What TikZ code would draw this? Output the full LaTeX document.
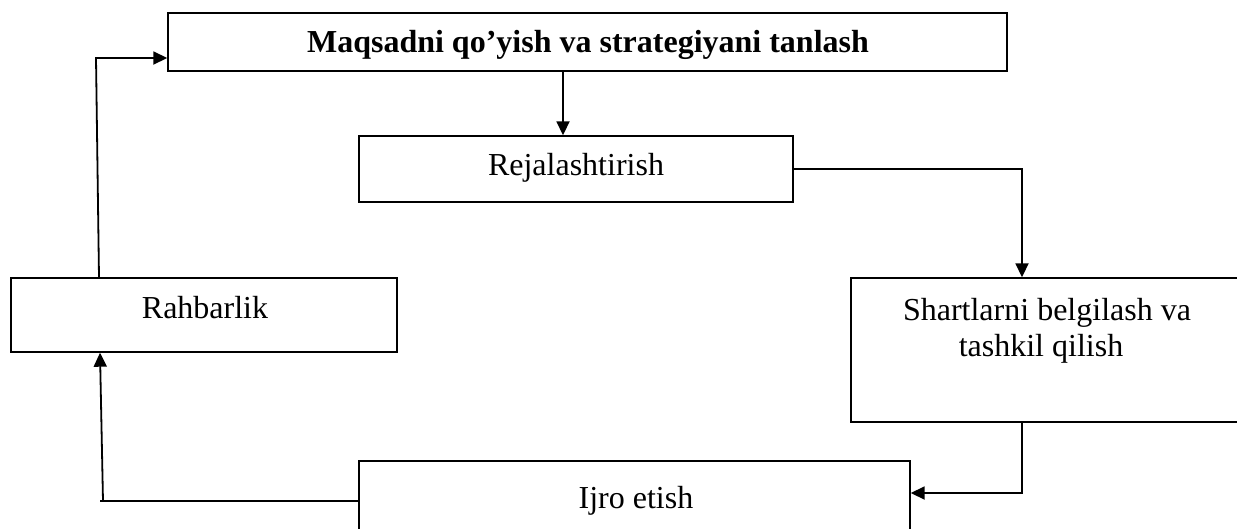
\documentclass[tikz,border=0pt]{standalone}
\usepackage{fontspec}
\setmainfont{Liberation Serif}
\usetikzlibrary{arrows.meta}
\begin{document}
\begin{tikzpicture}[x=1pt,y=-1pt,
  box/.style={draw=black,line width=1.4pt,rectangle,inner sep=0pt,fill=none},
  txt/.style={anchor=base,inner sep=0pt,font=\fontsize{32}{36}\selectfont},
  conn/.style={line width=1.8pt,-{Triangle[length=14pt,width=13pt]}},
  plain/.style={line width=1.8pt}]
\useasboundingbox (0,0) rectangle (1237,528);
\clip (0,0) rectangle (1237,528);
% boxes
\node[box,minimum width=839pt,minimum height=58pt] (goal) at (587.5,42) {};
\node[box,minimum width=434pt,minimum height=66pt] (plan) at (576,169) {};
\node[box,minimum width=386pt,minimum height=74pt] (lead) at (204,315) {};
\node[box,minimum width=392pt,minimum height=144pt] (cond) at (1047,350) {};
\node[box,minimum width=551pt,minimum height=90pt] (exec) at (634.5,506) {};
% texts
\node[txt,font=\fontsize{32}{36}\selectfont\bfseries] (goalt) at (588,52) {Maqsadni qo’yish va strategiyani tanlash};
\node[txt] (plant) at (576,175) {Rejalashtirish};
\node[txt] (leadt) at (205,318) {Rahbarlik};
\node[txt] (condt1) at (1047,320) {Shartlarni belgilash va};
\node[txt] (condt2) at (1041,356) {tashkil qilish};
\node[txt] (exect) at (636,508) {Ijro etish};
% connector helper coordinates
\coordinate (c1) at (1022,169);
\coordinate (c2) at (1022,493);
\coordinate (c3) at (100,501);
\coordinate (c4) at (96,58);
% connectors
\draw[conn] (goal.south -| 563,0) -- (plan.north -| 563,0);
\draw[conn] (plan.east |- c1) -- (c1) -- (cond.north -| c1);
\draw[conn] (cond.south -| c2) -- (c2) -- (exec.east |- c2);
\draw[plain] (exec.west |- c3) -- (c3);
\draw[conn] (103,501) -- (lead.south -| 100,0);
\draw[conn] (lead.north -| 99,0) -- (c4) -- (goal.west |- c4);
\end{tikzpicture}
\end{document}
